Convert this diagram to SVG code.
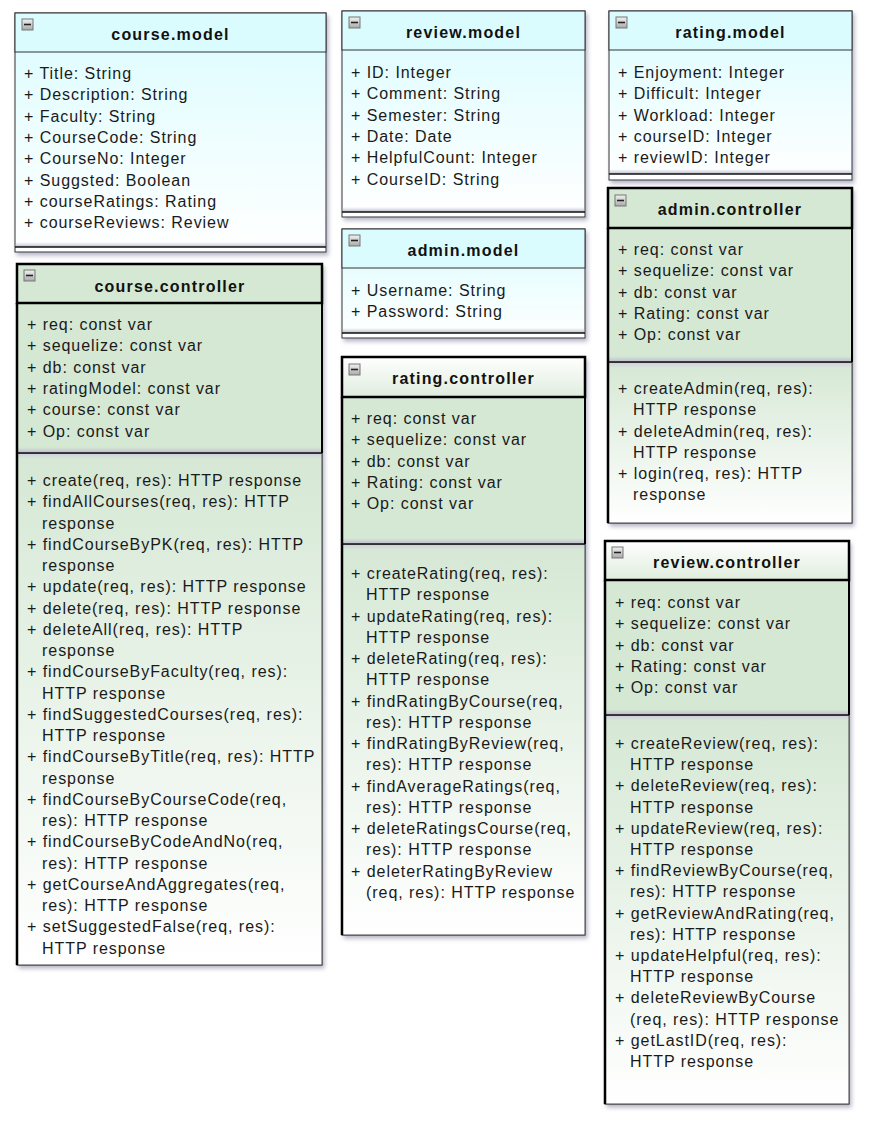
<svg xmlns="http://www.w3.org/2000/svg" width="871" height="1126" viewBox="0 0 871 1126">
<style>
.t{font-family:"Liberation Sans",Arial,sans-serif;font-size:16px;letter-spacing:0.95px;fill:#1a1a1a}
.h{font-family:"Liberation Sans",Arial,sans-serif;font-size:16px;letter-spacing:1.2px;font-weight:bold;fill:#111;text-anchor:middle}
.mb{stroke:#333;stroke-width:1}
.cb{stroke:#000;stroke-width:2.5}
.cbody{stroke:#444;stroke-width:1}
.thick{stroke:#000;stroke-width:2.5}
.sep{stroke:#111;stroke-width:1.6}
.ib{fill:url(#ig);stroke:#777;stroke-width:1}
.im{stroke:#222;stroke-width:1.6}
</style>
<defs>
<filter id="sh" x="-5%" y="-5%" width="115%" height="115%">
<feDropShadow dx="2" dy="3" stdDeviation="2" flood-color="#7a7a9a" flood-opacity="0.55"/>
</filter>
<linearGradient id="mg" x1="0" y1="0" x2="0" y2="1"><stop offset="0" stop-color="#dbfcff"/><stop offset="1" stop-color="#ffffff"/></linearGradient>
<linearGradient id="gg" x1="0" y1="0" x2="0" y2="1"><stop offset="0" stop-color="#d5e8d4"/><stop offset="1" stop-color="#ffffff"/></linearGradient>
<linearGradient id="hg" x1="0" y1="0" x2="0" y2="1"><stop offset="0" stop-color="#ffffff"/><stop offset="1" stop-color="#dfeddd"/></linearGradient>
<linearGradient id="ig" x1="0" y1="0" x2="0" y2="1"><stop offset="0" stop-color="#f2f2f2"/><stop offset="1" stop-color="#a9a9a9"/></linearGradient>
<linearGradient id="bd" x1="0" y1="0" x2="0" y2="1"><stop offset="0" stop-color="#c4c4d4" stop-opacity="0"/><stop offset="1" stop-color="#b8b8cc"/></linearGradient>
<linearGradient id="bu" x1="0" y1="0" x2="0" y2="1"><stop offset="0" stop-color="#d0d0de"/><stop offset="1" stop-color="#d0d0de" stop-opacity="0"/></linearGradient>
</defs>

<!-- course.model -->
<g id="course.model">
<rect x="15" y="13" width="311" height="239" fill="url(#mg)" class="mb" filter="url(#sh)"/>
<rect x="15" y="13" width="311" height="39" fill="#dbfcff" class="mb"/>
<rect x="16" y="242" width="309" height="5" fill="url(#bd)"/>
<line x1="15" y1="247" x2="326" y2="247" class="sep"/>
<rect x="22" y="19" width="11" height="11" class="ib"/><line x1="24" y1="24.5" x2="31" y2="24.5" class="im"/>
<text class="h" x="170.5" y="40">course.model</text>
<text class="t" x="24" y="79">+ Title: String</text>
<text class="t" x="24" y="100.3">+ Description: String</text>
<text class="t" x="24" y="121.6">+ Faculty: String</text>
<text class="t" x="24" y="142.9">+ CourseCode: String</text>
<text class="t" x="24" y="164.2">+ CourseNo: Integer</text>
<text class="t" x="24" y="185.5">+ Suggsted: Boolean</text>
<text class="t" x="24" y="206.8">+ courseRatings: Rating</text>
<text class="t" x="24" y="228.1">+ courseReviews: Review</text>
</g>

<!-- review.model -->
<g id="review.model">
<rect x="342" y="11" width="243" height="206" fill="url(#mg)" class="mb" filter="url(#sh)"/>
<rect x="342" y="11" width="243" height="39" fill="#dbfcff" class="mb"/>
<rect x="343" y="207" width="241" height="5" fill="url(#bd)"/>
<line x1="342" y1="212" x2="585" y2="212" class="sep"/>
<rect x="349" y="17" width="11" height="11" class="ib"/><line x1="351" y1="22.5" x2="358" y2="22.5" class="im"/>
<text class="h" x="463.5" y="38">review.model</text>
<text class="t" x="351" y="78">+ ID: Integer</text>
<text class="t" x="351" y="99.3">+ Comment: String</text>
<text class="t" x="351" y="120.6">+ Semester: String</text>
<text class="t" x="351" y="141.9">+ Date: Date</text>
<text class="t" x="351" y="163.2">+ HelpfulCount: Integer</text>
<text class="t" x="351" y="184.5">+ CourseID: String</text>
</g>

<!-- rating.model -->
<g id="rating.model">
<rect x="609" y="11" width="243" height="169" fill="url(#mg)" class="mb" filter="url(#sh)"/>
<rect x="609" y="11" width="243" height="39" fill="#dbfcff" class="mb"/>
<rect x="610" y="169" width="241" height="5" fill="url(#bd)"/>
<line x1="609" y1="174" x2="852" y2="174" class="sep"/>
<rect x="616" y="17" width="11" height="11" class="ib"/><line x1="618" y1="22.5" x2="625" y2="22.5" class="im"/>
<text class="h" x="730.5" y="38">rating.model</text>
<text class="t" x="618" y="78">+ Enjoyment: Integer</text>
<text class="t" x="618" y="99.3">+ Difficult: Integer</text>
<text class="t" x="618" y="120.6">+ Workload: Integer</text>
<text class="t" x="618" y="141.9">+ courseID: Integer</text>
<text class="t" x="618" y="163.2">+ reviewID: Integer</text>
</g>

<!-- admin.model -->
<g id="admin.model">
<rect x="342" y="229" width="243" height="109" fill="url(#mg)" class="mb" filter="url(#sh)"/>
<rect x="342" y="229" width="243" height="39" fill="#dbfcff" class="mb"/>
<rect x="343" y="328" width="241" height="5" fill="url(#bd)"/>
<line x1="342" y1="333" x2="585" y2="333" class="sep"/>
<rect x="349" y="235" width="11" height="11" class="ib"/><line x1="351" y1="240.5" x2="358" y2="240.5" class="im"/>
<text class="h" x="463.5" y="256">admin.model</text>
<text class="t" x="351" y="296">+ Username: String</text>
<text class="t" x="351" y="317.3">+ Password: String</text>
</g>

<!-- course.controller -->
<g id="course.controller">
<rect x="17" y="264" width="305" height="701" fill="#ffffff" class="cbody" filter="url(#sh)"/>
<rect x="17" y="303" width="305" height="150" fill="#d5e8d4"/>
<rect x="17" y="453" width="305" height="512" fill="url(#gg)" class="cbody"/>
<rect x="18" y="447" width="303" height="6" fill="url(#bd)"/>
<rect x="18" y="454" width="303" height="5" fill="url(#bu)"/>
<line x1="17" y1="453" x2="322" y2="453" class="sep"/>
<line x1="17" y1="303" x2="17" y2="965" class="thick"/>
<line x1="322" y1="303" x2="322" y2="453" stroke="#000" stroke-width="2"/>
<rect x="17" y="264" width="305" height="39" fill="#d5e8d4" class="cb"/>
<rect x="24" y="270" width="11" height="11" class="ib"/><line x1="26" y1="275.5" x2="33" y2="275.5" class="im"/>
<text class="h" x="170" y="292">course.controller</text>
<text class="t" x="27" y="330">+ req: const var</text>
<text class="t" x="27" y="351.3">+ sequelize: const var</text>
<text class="t" x="27" y="372.6">+ db: const var</text>
<text class="t" x="27" y="393.9">+ ratingModel: const var</text>
<text class="t" x="27" y="415.2">+ course: const var</text>
<text class="t" x="27" y="436.5">+ Op: const var</text>
<text class="t" x="27" y="486">+ create(req, res): HTTP response</text>
<text class="t" x="27" y="507.25">+ findAllCourses(req, res): HTTP</text>
<text class="t" x="42" y="528.5">response</text>
<text class="t" x="27" y="549.75">+ findCourseByPK(req, res): HTTP</text>
<text class="t" x="42" y="571">response</text>
<text class="t" x="27" y="592.25">+ update(req, res): HTTP response</text>
<text class="t" x="27" y="613.5">+ delete(req, res): HTTP response</text>
<text class="t" x="27" y="634.75">+ deleteAll(req, res): HTTP</text>
<text class="t" x="42" y="656">response</text>
<text class="t" x="27" y="677.25">+ findCourseByFaculty(req, res):</text>
<text class="t" x="42" y="698.5">HTTP response</text>
<text class="t" x="27" y="719.75">+ findSuggestedCourses(req, res):</text>
<text class="t" x="42" y="741">HTTP response</text>
<text class="t" x="27" y="762.25">+ findCourseByTitle(req, res): HTTP</text>
<text class="t" x="42" y="783.5">response</text>
<text class="t" x="27" y="804.75">+ findCourseByCourseCode(req,</text>
<text class="t" x="42" y="826">res): HTTP response</text>
<text class="t" x="27" y="847.25">+ findCourseByCodeAndNo(req,</text>
<text class="t" x="42" y="868.5">res): HTTP response</text>
<text class="t" x="27" y="889.75">+ getCourseAndAggregates(req,</text>
<text class="t" x="42" y="911">res): HTTP response</text>
<text class="t" x="27" y="932.25">+ setSuggestedFalse(req, res):</text>
<text class="t" x="42" y="953.5">HTTP response</text>
</g>

<!-- admin.controller -->
<g id="admin.controller">
<rect x="608" y="188" width="244" height="335" fill="#ffffff" class="cbody" filter="url(#sh)"/>
<rect x="608" y="228" width="244" height="134" fill="#d5e8d4"/>
<rect x="608" y="362" width="244" height="161" fill="url(#gg)" class="cbody"/>
<rect x="609" y="356" width="242" height="6" fill="url(#bd)"/>
<rect x="609" y="363" width="242" height="5" fill="url(#bu)"/>
<line x1="608" y1="362" x2="852" y2="362" class="sep"/>
<line x1="608" y1="228" x2="608" y2="523" class="thick"/>
<line x1="852" y1="228" x2="852" y2="362" stroke="#000" stroke-width="2"/>
<rect x="608" y="188" width="244" height="40" fill="#d5e8d4" class="cb"/>
<rect x="615" y="195" width="11" height="11" class="ib"/><line x1="617" y1="200.5" x2="624" y2="200.5" class="im"/>
<text class="h" x="730" y="215">admin.controller</text>
<text class="t" x="618" y="255">+ req: const var</text>
<text class="t" x="618" y="276.3">+ sequelize: const var</text>
<text class="t" x="618" y="297.6">+ db: const var</text>
<text class="t" x="618" y="318.9">+ Rating: const var</text>
<text class="t" x="618" y="340.2">+ Op: const var</text>
<text class="t" x="618" y="394">+ createAdmin(req, res):</text>
<text class="t" x="633" y="415.25">HTTP response</text>
<text class="t" x="618" y="436.5">+ deleteAdmin(req, res):</text>
<text class="t" x="633" y="457.75">HTTP response</text>
<text class="t" x="618" y="479">+ login(req, res): HTTP</text>
<text class="t" x="633" y="500.25">response</text>
</g>

<!-- rating.controller -->
<g id="rating.controller">
<rect x="342" y="357" width="243" height="578" fill="#ffffff" class="cbody" filter="url(#sh)"/>
<rect x="342" y="397" width="243" height="147" fill="#d5e8d4"/>
<rect x="342" y="544" width="243" height="391" fill="url(#gg)" class="cbody"/>
<rect x="343" y="538" width="241" height="6" fill="url(#bd)"/>
<rect x="343" y="545" width="241" height="5" fill="url(#bu)"/>
<line x1="342" y1="544" x2="585" y2="544" class="sep"/>
<line x1="342" y1="397" x2="342" y2="935" class="thick"/>
<line x1="585" y1="397" x2="585" y2="544" stroke="#000" stroke-width="2"/>
<rect x="342" y="357" width="243" height="40" fill="url(#hg)" class="cb"/>
<rect x="349" y="364" width="11" height="11" class="ib"/><line x1="351" y1="369.5" x2="358" y2="369.5" class="im"/>
<text class="h" x="463.5" y="384">rating.controller</text>
<text class="t" x="351" y="424">+ req: const var</text>
<text class="t" x="351" y="445.3">+ sequelize: const var</text>
<text class="t" x="351" y="466.6">+ db: const var</text>
<text class="t" x="351" y="487.9">+ Rating: const var</text>
<text class="t" x="351" y="509.2">+ Op: const var</text>
<text class="t" x="351" y="579">+ createRating(req, res):</text>
<text class="t" x="366" y="600.25">HTTP response</text>
<text class="t" x="351" y="621.5">+ updateRating(req, res):</text>
<text class="t" x="366" y="642.75">HTTP response</text>
<text class="t" x="351" y="664">+ deleteRating(req, res):</text>
<text class="t" x="366" y="685.25">HTTP response</text>
<text class="t" x="351" y="706.5">+ findRatingByCourse(req,</text>
<text class="t" x="366" y="727.75">res): HTTP response</text>
<text class="t" x="351" y="749">+ findRatingByReview(req,</text>
<text class="t" x="366" y="770.25">res): HTTP response</text>
<text class="t" x="351" y="791.5">+ findAverageRatings(req,</text>
<text class="t" x="366" y="812.75">res): HTTP response</text>
<text class="t" x="351" y="834">+ deleteRatingsCourse(req,</text>
<text class="t" x="366" y="855.25">res): HTTP response</text>
<text class="t" x="351" y="876.5">+ deleterRatingByReview</text>
<text class="t" x="366" y="897.75">(req, res): HTTP response</text>
</g>

<!-- review.controller -->
<g id="review.controller">
<rect x="605" y="541" width="244" height="563" fill="#ffffff" class="cbody" filter="url(#sh)"/>
<rect x="605" y="580" width="244" height="135" fill="#d5e8d4"/>
<rect x="605" y="715" width="244" height="389" fill="url(#gg)" class="cbody"/>
<rect x="606" y="709" width="242" height="6" fill="url(#bd)"/>
<rect x="606" y="716" width="242" height="5" fill="url(#bu)"/>
<line x1="605" y1="715" x2="849" y2="715" class="sep"/>
<line x1="605" y1="580" x2="605" y2="1104" class="thick"/>
<line x1="849" y1="580" x2="849" y2="715" stroke="#000" stroke-width="2"/>
<rect x="605" y="541" width="244" height="39" fill="url(#hg)" class="cb"/>
<rect x="612" y="547" width="11" height="11" class="ib"/><line x1="614" y1="552.5" x2="621" y2="552.5" class="im"/>
<text class="h" x="727" y="568">review.controller</text>
<text class="t" x="615" y="608">+ req: const var</text>
<text class="t" x="615" y="629.3">+ sequelize: const var</text>
<text class="t" x="615" y="650.6">+ db: const var</text>
<text class="t" x="615" y="671.9">+ Rating: const var</text>
<text class="t" x="615" y="693.2">+ Op: const var</text>
<text class="t" x="615" y="749">+ createReview(req, res):</text>
<text class="t" x="630" y="770.2">HTTP response</text>
<text class="t" x="615" y="791.4">+ deleteReview(req, res):</text>
<text class="t" x="630" y="812.6">HTTP response</text>
<text class="t" x="615" y="833.8">+ updateReview(req, res):</text>
<text class="t" x="630" y="855">HTTP response</text>
<text class="t" x="615" y="876.2">+ findReviewByCourse(req,</text>
<text class="t" x="630" y="897.4">res): HTTP response</text>
<text class="t" x="615" y="918.6">+ getReviewAndRating(req,</text>
<text class="t" x="630" y="939.8">res): HTTP response</text>
<text class="t" x="615" y="961">+ updateHelpful(req, res):</text>
<text class="t" x="630" y="982.2">HTTP response</text>
<text class="t" x="615" y="1003.4">+ deleteReviewByCourse</text>
<text class="t" x="630" y="1024.6">(req, res): HTTP response</text>
<text class="t" x="615" y="1045.8">+ getLastID(req, res):</text>
<text class="t" x="630" y="1067">HTTP response</text>
</g>

<g id="connectors"/>
</svg>
